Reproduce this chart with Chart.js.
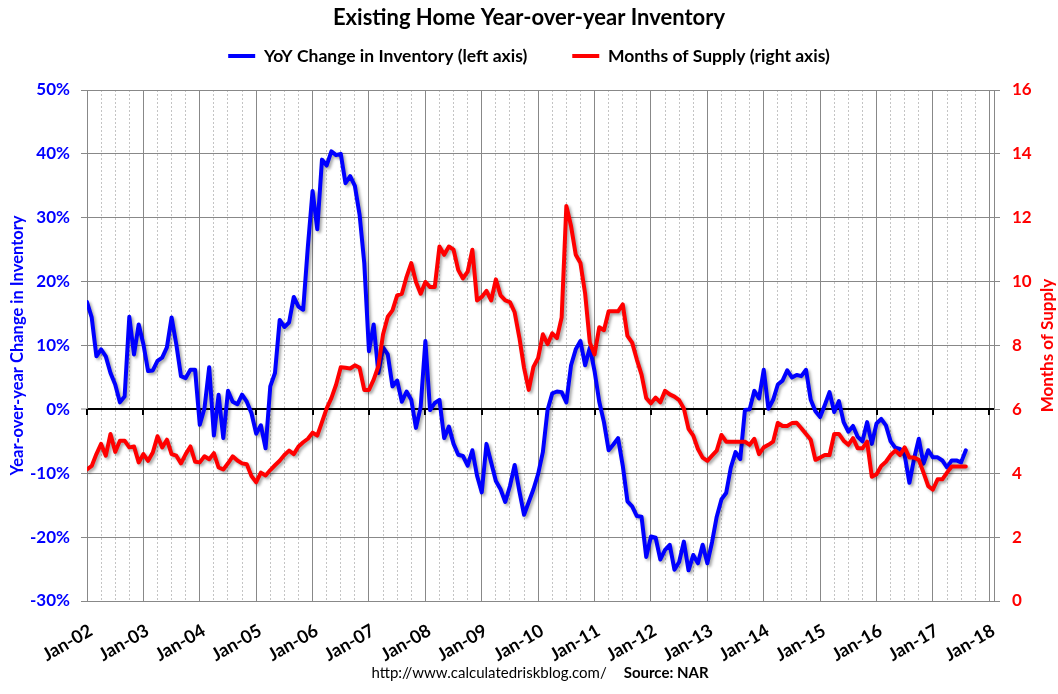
<!DOCTYPE html>
<html><head><meta charset="utf-8">
<script src="https://cdn.jsdelivr.net/npm/chart.js@4.4.1/dist/chart.umd.min.js"></script>
<style>html,body{margin:0;padding:0;background:#fff;}</style>
</head><body>
<canvas id="c" width="1058" height="694"></canvas>
<script>
// Tick labels for the time axis (one per January, month index = 12*k)
const tickLabels = ['Jan-02','Jan-03','Jan-04','Jan-05','Jan-06','Jan-07','Jan-08','Jan-09','Jan-10',
  'Jan-11','Jan-12','Jan-13','Jan-14','Jan-15','Jan-16','Jan-17','Jan-18'];

// YoY change in inventory (%), monthly from Jan-02
const yoyInventory = [
  16.8,14.4,8.3,9.4,8.3,5.7,3.9,1.1,2.0,14.5,8.6,13.3,
  10.2,6.0,6.1,7.6,8.1,9.7,14.4,10.2,5.2,4.9,6.2,6.2,
  -2.4,0.2,6.6,-4.1,2.3,-4.5,2.9,1.2,0.8,2.3,1.2,-0.6,
  -3.8,-2.5,-6.1,3.6,5.7,14.0,12.9,13.6,17.6,16.1,15.6,25.5,
  34.2,28.2,39.1,38.2,40.4,39.8,40.0,35.4,36.5,35.0,30.5,22.9,
  9.1,13.3,5.7,9.7,8.6,3.6,4.5,1.2,2.8,1.5,-2.9,0.4,
  10.7,-0.1,1.0,1.5,-4.5,-2.7,-5.4,-7.1,-7.3,-8.8,-6.4,-10.4,
  -13.0,-5.4,-8.3,-11.2,-12.5,-14.5,-12.0,-8.7,-12.8,-16.5,-14.5,-12.5,
  -10.1,-6.7,-0.1,2.5,2.8,2.7,1.1,6.9,9.4,10.7,6.9,9.7,
  6.0,1.2,-2.0,-6.4,-5.5,-4.5,-8.8,-14.4,-15.2,-16.7,-16.8,-23.1,
  -19.9,-20.1,-23.5,-22.0,-21.2,-25.1,-23.9,-20.7,-25.2,-22.8,-24.1,-21.2,
  -24.1,-20.8,-16.8,-14.1,-13.1,-9.1,-6.7,-7.8,-0.1,0.0,2.9,1.7,
  6.2,0.1,1.5,3.9,4.5,6.1,5.0,5.4,5.2,6.2,1.5,-0.3,
  -1.2,0.7,2.7,-0.4,1.3,-2.0,-3.5,-2.6,-4.3,-5.0,-2.0,-5.4,
  -2.2,-1.5,-2.5,-5.0,-6.0,-6.2,-7.2,-11.5,-7.7,-4.6,-8.5,-6.4,
  -7.5,-7.5,-8.0,-9.1,-8.0,-8.0,-8.3,-6.4
];

// Months of supply, monthly from Jan-02
const monthsSupply = [
  4.12,4.23,4.60,4.92,4.55,5.23,4.67,5.02,5.02,4.81,4.84,4.34,
  4.60,4.39,4.65,5.16,4.81,5.05,4.60,4.55,4.31,4.60,4.84,4.36,
  4.34,4.53,4.44,4.63,4.18,4.12,4.31,4.53,4.40,4.31,4.28,3.91,
  3.72,4.02,3.93,4.10,4.25,4.39,4.57,4.71,4.60,4.84,4.97,5.08,
  5.27,5.18,5.60,6.03,6.35,6.77,7.32,7.30,7.28,7.38,7.30,6.61,
  6.61,6.93,7.35,8.35,8.90,9.10,9.57,9.62,10.15,10.58,9.99,9.62,
  9.99,9.83,9.83,11.10,10.84,11.10,11.00,10.36,10.10,10.31,11.00,9.41,
  9.52,9.71,9.41,10.07,9.57,9.41,9.36,9.04,8.25,7.30,6.61,7.33,
  7.61,8.35,8.04,8.38,8.23,8.88,12.37,11.74,10.84,10.58,9.62,8.09,
  7.72,8.57,8.48,9.07,9.07,9.07,9.29,8.30,8.09,7.56,7.09,6.35,
  6.19,6.37,6.22,6.58,6.47,6.40,6.29,6.03,5.39,5.18,4.76,4.49,
  4.39,4.55,4.71,5.20,4.99,4.99,4.99,4.99,4.99,4.89,5.08,4.60,
  4.81,4.89,4.99,5.58,5.48,5.48,5.57,5.58,5.41,5.23,5.05,4.42,
  4.49,4.57,4.57,5.23,5.23,5.02,4.89,5.10,4.78,4.78,4.99,3.89,
  3.97,4.23,4.36,4.57,4.71,4.57,4.81,4.49,4.49,4.42,4.02,3.60,
  3.49,3.81,3.81,4.02,4.21,4.21,4.21,4.21
];

const seriesNames = ['YoY Change in Inventory (left axis)', 'Months of Supply (right axis)'];
const seriesColors = ['#0000FF', '#FF0000'];
const leftRange = [-30, 50, 10];
const rightRange = [0, 16, 2];
const xMaxMonth = 193;

const toPoints = arr => arr.map((v, i) => ({x: i, y: v}));
const CAL = 'Lato, "Open Sans", sans-serif';

const shadowPlugin = {
  id: 'lineShadow',
  beforeDatasetDraw(chart) {
    const c = chart.ctx; c.save();
    c.shadowColor = 'rgba(0,0,0,0.35)'; c.shadowBlur = 3; c.shadowOffsetX = 2; c.shadowOffsetY = 2;
  },
  afterDatasetDraw(chart) { chart.ctx.restore(); }
};

const zeroTicks = {
  id: 'zeroTicks',
  beforeDatasetsDraw(chart) {
    const {ctx, scales: {x, yL}} = chart;
    const y0 = Math.round(yL.getPixelForValue(0));
    ctx.save(); ctx.strokeStyle = '#000'; ctx.lineWidth = 2;
    for (let m = 0; m <= xMaxMonth; m += 12) {
      const px = Math.round(x.getPixelForValue(m));
      ctx.beginPath(); ctx.moveTo(px, y0); ctx.lineTo(px, y0 + 6); ctx.stroke();
    }
    ctx.restore();
  }
};

const extraText = {
  id: 'extraText',
  afterDraw(chart) {
    const {ctx, chartArea} = chart;
    ctx.save();
    // right axis title, reading upward
    ctx.fillStyle = '#FF0000';
    ctx.font = 'bold 17px ' + CAL;
    ctx.textAlign = 'center'; ctx.textBaseline = 'middle';
    ctx.translate(1048, (chartArea.top + chartArea.bottom) / 2);
    ctx.rotate(-Math.PI / 2);
    ctx.fillText('Months of Supply', 0, 0);
    ctx.restore();
    // footer
    ctx.save();
    ctx.fillStyle = '#000'; ctx.textBaseline = 'middle'; ctx.textAlign = 'left';
    const t1 = 'http://www.calculatedriskblog.com/', t2 = 'Source: NAR', gap = 17;
    ctx.font = '15px ' + CAL; const w1 = ctx.measureText(t1).width;
    ctx.font = 'bold 15px ' + CAL; const w2 = ctx.measureText(t2).width;
    const x0 = 540 - (w1 + gap + w2) / 2;
    ctx.font = '15px ' + CAL; ctx.fillText(t1, x0, 673);
    ctx.font = 'bold 15px ' + CAL; ctx.fillText(t2, x0 + w1 + gap, 673);
    ctx.restore();
  }
};

new Chart(document.getElementById('c'), {
  type: 'line',
  data: {
    datasets: [
      {label: seriesNames[0], data: toPoints(yoyInventory), yAxisID: 'yL', borderColor: seriesColors[0],
       backgroundColor: seriesColors[0], borderWidth: 4, pointRadius: 0, tension: 0, order: 2,
       borderJoinStyle: 'round', borderCapStyle: 'round'},
      {label: seriesNames[1], data: toPoints(monthsSupply), yAxisID: 'yR', borderColor: seriesColors[1],
       backgroundColor: seriesColors[1], borderWidth: 4, pointRadius: 0, tension: 0, order: 1,
       borderJoinStyle: 'round', borderCapStyle: 'round'}
    ]
  },
  options: {
    responsive: false, animation: false, devicePixelRatio: 1,
    layout: {padding: 0},
    plugins: {
      tooltip: {enabled: false},
      title: {display: true, text: 'Existing Home Year-over-year Inventory', color: '#000',
        font: {family: CAL, size: 22, weight: 'bold'}, padding: {top: 4.8, bottom: -28.95}},
      legend: {display: true, position: 'top',
        labels: {boxWidth: 27, boxHeight: 4, padding: 45, color: '#000',
          font: {family: CAL, size: 17.5, weight: 'bold'},
          generateLabels(chart) {
            return chart.data.datasets.map((ds, i) => ({text: ds.label, fillStyle: ds.borderColor,
              strokeStyle: ds.borderColor, lineWidth: 0, hidden: false, datasetIndex: i, fontColor: '#000'}));
          }}},
      // spacer between legend and plot area
      subtitle: {display: true, text: '', weight: 500, font: {size: 1, lineHeight: 1},
        padding: {top: 14.25, bottom: 0}}
    },
    scales: {
      x: {type: 'linear', min: 0, max: xMaxMonth, position: 'bottom',
        ticks: {stepSize: 3, includeBounds: false, autoSkip: false, minRotation: 30, maxRotation: 30,
          callback: v => (v % 12 === 0 ? tickLabels[v / 12] : ''),
          color: '#000', font: {family: CAL, size: 18, weight: 'bold'}, padding: 19, labelOffset: 4},
        grid: {drawTicks: false,
          color: c => (c.tick && c.tick.value % 12 === 0 ? '#888888' : '#c4c4c4')},
        border: {display: true, color: '#888888',
          dash: c => (c.tick && c.tick.value % 12 !== 0 ? [2, 2] : [])},
        afterFit: s => { s.height = 93; }
      },
      yL: {position: 'left', min: leftRange[0], max: leftRange[1],
        ticks: {stepSize: leftRange[2], callback: v => v + '%', color: '#0000FF',
          font: {family: CAL, size: 17, weight: 'bold'}, padding: 11},
        grid: {color: c => (c.tick && c.tick.value === 0 ? '#000000' : '#888888'),
          lineWidth: c => (c.tick && c.tick.value === 0 ? 2 : 1),
          tickLength: 6, tickColor: '#888888', tickWidth: 1},
        border: {display: true, color: '#888888'},
        title: {display: true, text: 'Year-over-year Change in Inventory', color: '#0000FF',
          font: {family: CAL, size: 16.5, weight: 'bold'}, padding: {top: 8, bottom: 0}},
        afterFit: s => { s.width = 87; }
      },
      yR: {position: 'right', min: rightRange[0], max: rightRange[1],
        ticks: {stepSize: rightRange[2], color: '#FF0000',
          font: {family: CAL, size: 17, weight: 'bold'}, padding: 12},
        grid: {drawOnChartArea: false, tickLength: 6, tickColor: '#888888', tickWidth: 1},
        border: {display: true, color: '#888888'},
        afterFit: s => { s.width = 64; }
      }
    }
  },
  plugins: [shadowPlugin, zeroTicks, extraText]
});
</script>
</body></html>
